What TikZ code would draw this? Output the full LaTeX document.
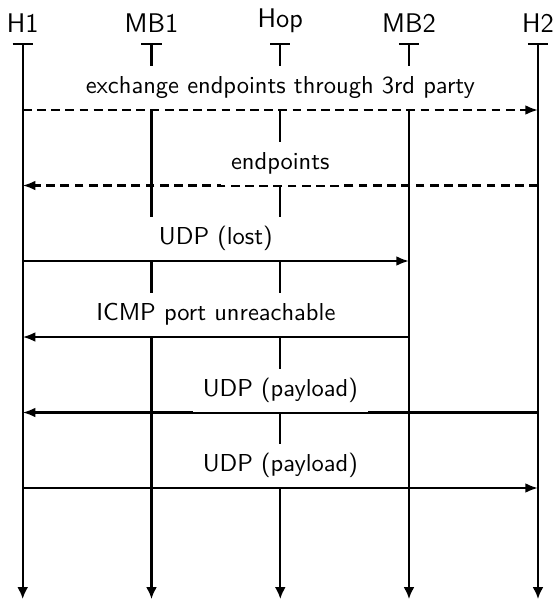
\documentclass[tikz,border=0pt]{standalone}
\usepackage{fontspec}
\usetikzlibrary{arrows.meta}
\begin{document}
\begin{tikzpicture}[x=0.4082pt, y=-0.4082pt, font=\sffamily,
  lifeline/.style={line width=0.9pt,
    {Bar[width=8.2pt]}-{Latex[length=4.8pt,width=4.4pt]}},
  msg/.style={line width=0.9pt, -{Latex[length=5.2pt,width=4pt]}},
  async/.style={msg, dash pattern=on 3.6pt off 2.2pt},
  actor/.style={anchor=south, inner sep=4pt, font=\sffamily\fontsize{11}{13}\selectfont},
  msglabel/.style={fill=white, anchor=south, outer sep=0pt, yshift=0.25pt,
    inner xsep=4pt, text height=8pt, text depth=3pt}]
  \useasboundingbox (0,0) rectangle (557,600);

  % participants and their lifelines
  \foreach \n/\x in {H1/22.7, MB1/151.5, Hop/280.3, MB2/409, H2/538} {
    \coordinate (\n-top) at (\x,43);
    \coordinate (\n-end) at (\x,599);
    \node[actor] (\n) at (\n-top) {\n};
    \draw[lifeline] (\n-top) -- (\n-end);
  }

  % heights of the messages
  \coordinate (m1) at (0,110);
  \coordinate (m2) at (0,185.5);
  \coordinate (m3) at (0,261);
  \coordinate (m4) at (0,337);
  \coordinate (m5) at (0,412.5);
  \coordinate (m6) at (0,488);

  % messages
  \draw[async] (H1-top |- m1) -- (H2-top |- m1)
    node[midway, msglabel] {exchange endpoints through 3rd party};
  \draw[async] (H2-top |- m2) -- (H1-top |- m2)
    node[midway, msglabel] {endpoints};
  \draw[msg] (H1-top |- m3) -- (MB2-top |- m3)
    node[midway, msglabel] {UDP (lost)};
  \draw[msg] (MB2-top |- m4) -- (H1-top |- m4)
    node[midway, msglabel] {ICMP port unreachable};
  \draw[msg] (H2-top |- m5) -- (H1-top |- m5)
    node[midway, msglabel] {UDP (payload)};
  \draw[msg] (H1-top |- m6) -- (H2-top |- m6)
    node[midway, msglabel] {UDP (payload)};
\end{tikzpicture}
\end{document}
